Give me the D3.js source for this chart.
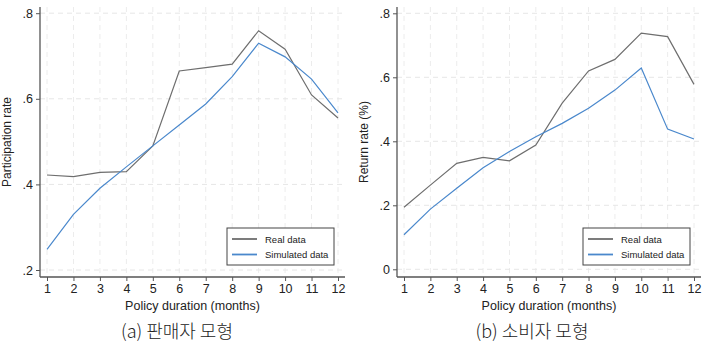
<!DOCTYPE html>
<html>
<head>
<meta charset="utf-8">
<script src="https://cdn.jsdelivr.net/npm/d3@7"></script>
<style>
  body { margin: 0; background: #fff; }
  svg text { font-family: "Liberation Sans", Arial, sans-serif; fill: #222; }
  svg text.caption { font-family: "Noto Sans CJK KR", sans-serif; }
</style>
</head>
<body>
<div id="chart"></div>
<script>
const width = 709;
const height = 348;

// months on the x axis
const months = [1, 2, 3, 4, 5, 6, 7, 8, 9, 10, 11, 12];

// (a) seller model
const sellerReal = [0.422, 0.418, 0.428, 0.430, 0.490, 0.665, 0.673, 0.681, 0.759, 0.716, 0.609, 0.555];
const sellerSim  = [0.248, 0.330, 0.391, 0.441, 0.490, 0.539, 0.588, 0.652, 0.730, 0.698, 0.646, 0.567];
const sellerTicks = [0.2, 0.4, 0.6, 0.8];

// (b) consumer model
const consumerReal = [0.194, 0.263, 0.331, 0.350, 0.339, 0.388, 0.519, 0.620, 0.656, 0.738, 0.727, 0.578];
const consumerSim  = [0.108, 0.188, 0.253, 0.317, 0.368, 0.414, 0.456, 0.503, 0.560, 0.629, 0.438, 0.407];
const consumerTicks = [0, 0.2, 0.4, 0.6, 0.8];

const seriesNames = ['Real data', 'Simulated data'];
const seriesColors = ['#6e6e6e', '#4a88cc'];

const svg = d3.select('#chart').append('svg')
    .attr('width', width)
    .attr('height', height);

// y tick format like Stata: ".8", "0"
const fmt = v => v === 0 ? '0' : d3.format('.1f')(v).replace(/^0/, '');

function drawPanel(opts) {
    const g = svg.append('g');
    const { left, right, top, bottom } = opts;

    const x = d3.scaleLinear().domain([1, 12]).range([left + 7, right - 7]);
    const y = d3.scaleLinear().domain(opts.yDomain).range([bottom, top]);

    // grid
    g.append('g').selectAll('line.vg')
        .data(months)
        .enter().append('line')
        .attr('x1', d => x(d)).attr('x2', d => x(d))
        .attr('y1', top).attr('y2', bottom)
        .attr('stroke', '#ececec').attr('stroke-width', 1)
        .attr('stroke-dasharray', '5,4');
    g.append('g').selectAll('line.hg')
        .data(opts.ticks)
        .enter().append('line')
        .attr('x1', left).attr('x2', right)
        .attr('y1', d => y(d)).attr('y2', d => y(d))
        .attr('stroke', '#e6e6e6').attr('stroke-width', 1)
        .attr('stroke-dasharray', '5,4');

    // axes
    const xAxis = g.append('g')
        .attr('transform', `translate(0,${bottom})`)
        .call(d3.axisBottom(x).tickValues(months).tickSize(4).tickPadding(3).tickSizeOuter(0));
    const yAxis = g.append('g')
        .attr('transform', `translate(${left},0)`)
        .call(d3.axisLeft(y).tickValues(opts.ticks).tickFormat(fmt).tickSize(4).tickPadding(3).tickSizeOuter(0));
    [xAxis, yAxis].forEach(a => {
        a.select('.domain').attr('stroke', '#555').attr('stroke-width', 1.3);
        a.selectAll('.tick line').attr('stroke', '#555');
        a.selectAll('.tick text').attr('font-size', 12.5).attr('fill', '#1a1a1a');
    });
    xAxis.select('.domain').attr('d', `M${left},0H${right}`);
    yAxis.select('.domain').attr('d', `M0,${top}V${bottom}`);

    // lines
    const line = d3.line().x((d, i) => x(months[i])).y(d => y(d));
    [opts.real, opts.sim].forEach((s, i) => {
        g.append('path')
            .datum(s)
            .attr('d', line)
            .attr('fill', 'none')
            .attr('stroke', seriesColors[i])
            .attr('stroke-width', 1.2);
    });

    // axis titles
    g.append('text')
        .attr('x', (left + right) / 2).attr('y', 310)
        .attr('text-anchor', 'middle').attr('font-size', 12.5)
        .text('Policy duration (months)');
    g.append('text')
        .attr('transform', `translate(${opts.yTitleX},${(top + bottom) / 2}) rotate(-90)`)
        .attr('text-anchor', 'middle').attr('font-size', 12)
        .text(opts.yTitle);

    // legend
    const lg = g.append('g').attr('transform', `translate(${opts.legendX},228)`);
    lg.append('rect')
        .attr('width', 107).attr('height', 37)
        .attr('fill', '#fff').attr('stroke', '#444').attr('stroke-width', 1);
    seriesNames.forEach((name, i) => {
        const yy = 11 + i * 15.5;
        lg.append('line')
            .attr('x1', 5).attr('x2', 30)
            .attr('y1', yy).attr('y2', yy)
            .attr('stroke', seriesColors[i]).attr('stroke-width', 1.8);
        lg.append('text')
            .attr('x', 38).attr('y', yy + 3.5)
            .attr('font-size', 9.5)
            .text(name);
    });

    // caption
    g.append('text')
        .attr('class', 'caption')
        .attr('x', opts.captionX).attr('y', 338)
        .attr('text-anchor', 'middle')
        .attr('font-size', 18)
        .attr('font-weight', 300)
        .text(opts.caption);
}

drawPanel({
    left: 40, right: 345, top: 7, bottom: 277,
    yDomain: [0.2 - 7 / 428, 0.2 + 263 / 428],
    ticks: sellerTicks,
    real: sellerReal, sim: sellerSim,
    yTitle: 'Participation rate', yTitleX: 11,
    legendX: 227,
    caption: '(a) 판매자 모형', captionX: 177
});

drawPanel({
    left: 397, right: 701, top: 7, bottom: 277,
    yDomain: [-7.7 / 320, 262.3 / 320],
    ticks: consumerTicks,
    real: consumerReal, sim: consumerSim,
    yTitle: 'Return rate (%)', yTitleX: 368,
    legendX: 583,
    caption: '(b) 소비자 모형', captionX: 532
});
</script>
</body>
</html>
